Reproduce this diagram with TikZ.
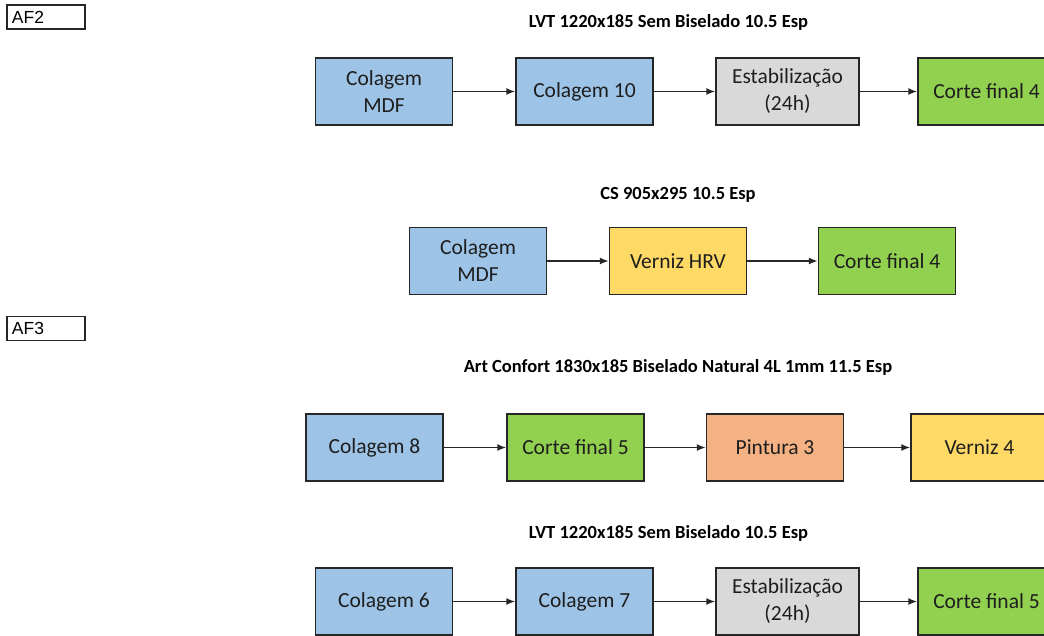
\documentclass[tikz,border=0pt]{standalone}
\usepackage{fontspec}
\setmainfont{Carlito}
\newfontfamily\arialfont{Liberation Sans}
\usetikzlibrary{positioning,arrows.meta}

\definecolor{cblue}{HTML}{9DC3E6}
\definecolor{cgreen}{HTML}{92D050}
\definecolor{cgray}{HTML}{D9D9D9}
\definecolor{cyellow}{HTML}{FFD966}
\definecolor{corange}{HTML}{F4B183}
\definecolor{ctext}{HTML}{1E1E1E}

\begin{document}
\begin{tikzpicture}[
    x=1pt, y=-1pt,
    every node/.style={font=\fontsize{21.5}{27}\selectfont},
    sbox/.style={draw=black!85, line width=1.4pt, minimum width=137pt, minimum height=67pt,
        inner sep=0pt, align=center, text=ctext},
    wbox/.style={sbox, minimum width=143pt},
    ttl/.style={font=\fontsize{18.5}{22}\selectfont\bfseries},
    tag/.style={draw=black!85, line width=1.2pt, minimum width=78pt, minimum height=24pt,
        inner xsep=5pt, inner ysep=0pt, text width=68pt, align=left,
        font=\arialfont\fontsize{17.5}{19}\selectfont},
    flow/.style={line width=1.5pt, black!85, -{Latex[length=9pt,width=7pt]}},
]

\useasboundingbox (0,0) rectangle (1044,635);

% Tags on the left
\node[tag] (af2) at (46,17) {AF2};
\node[tag] (af3) at (46,328.5) {AF3};

% ================================================================
% AF2 / row 1: LVT 1220x185 Sem Biselado 10.5 Esp
% ================================================================
\node[ttl] (t1) at (668.5,22) {LVT 1220x185 Sem Biselado 10.5 Esp};
\node[sbox, fill=cblue] (a1) at (384,91.5) {Colagem\\MDF};
\node[sbox, fill=cblue] (a2) at (584.5,91.5) {Colagem 10};
\node[wbox, fill=cgray] (a3) at (787.5,91.5) {Estabilização\\(24h)};
\node[sbox, fill=cgreen] (a4) at (986.5,91.5) {Corte final 4};
\draw[flow] (a1)--(a2);
\draw[flow] (a2)--(a3);
\draw[flow] (a3)--(a4);

% ================================================================
% AF2 / row 2: CS 905x295 10.5 Esp
% ================================================================
\node[ttl] (t2) at (678,195) {CS 905x295 10.5 Esp};
\node[sbox, fill=cblue] (b1) at (478,261) {Colagem\\MDF};
\node[sbox, fill=cyellow] (b2) at (678,261) {Verniz HRV};
\node[sbox, fill=cgreen] (b3) at (887,261) {Corte final 4};
\draw[flow] (b1)--(b2);
\draw[flow] (b2)--(b3);

% ================================================================
% AF3 / row 3: Art Confort 1830x185 Biselado Natural 4L 1mm 11.5 Esp
% ================================================================
\node[ttl] (t3) at (678,367) {Art Confort 1830x185 Biselado Natural 4L 1mm 11.5 Esp};
\node[sbox, fill=cblue] (c1) at (374.5,447.5) {Colagem 8};
\node[sbox, fill=cgreen] (c2) at (575.5,447.5) {Corte final 5};
\node[sbox, fill=corange] (c3) at (775,447.5) {Pintura 3};
\node[sbox, fill=cyellow] (c4) at (979.5,447.5) {Verniz 4};
\draw[flow] (c1)--(c2);
\draw[flow] (c2)--(c3);
\draw[flow] (c3)--(c4);

% ================================================================
% AF3 / row 4: LVT 1220x185 Sem Biselado 10.5 Esp
% ================================================================
\node[ttl] (t4) at (668.5,533) {LVT 1220x185 Sem Biselado 10.5 Esp};
\node[sbox, fill=cblue] (d1) at (384,601.5) {Colagem 6};
\node[sbox, fill=cblue] (d2) at (584.5,601.5) {Colagem 7};
\node[wbox, fill=cgray] (d3) at (787.5,601.5) {Estabilização\\(24h)};
\node[sbox, fill=cgreen] (d4) at (986.5,601.5) {Corte final 5};
\draw[flow] (d1)--(d2);
\draw[flow] (d2)--(d3);
\draw[flow] (d3)--(d4);

\end{tikzpicture}
\end{document}
